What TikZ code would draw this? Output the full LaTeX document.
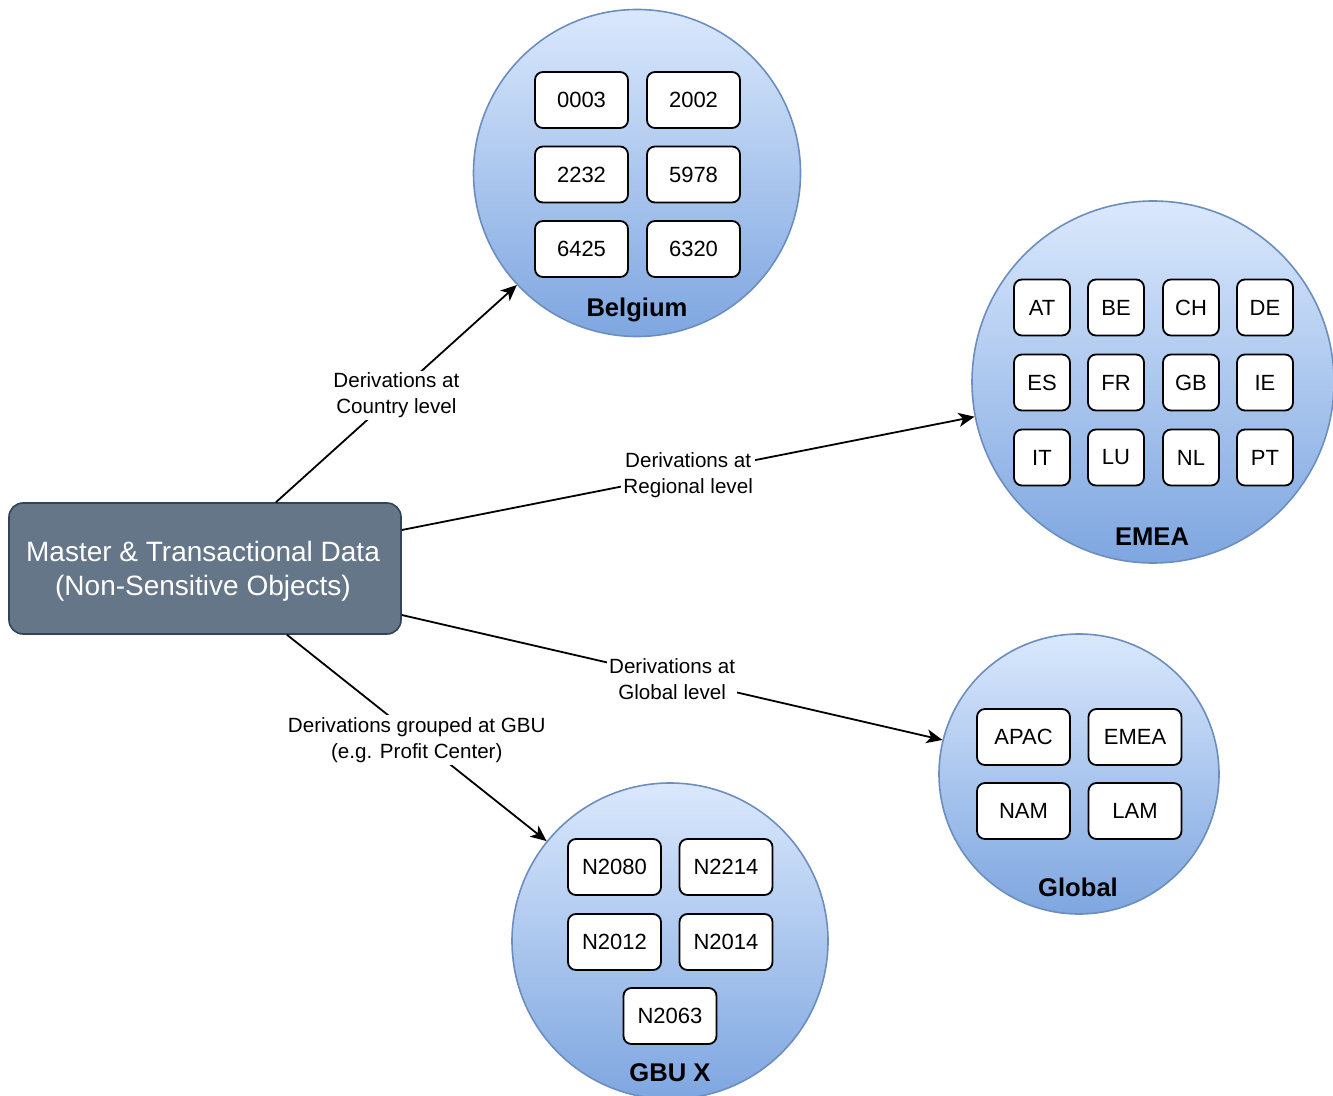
\documentclass[tikz,border=0pt]{standalone}
\usepackage{fontspec}
\setmainfont{Liberation Sans}
\usetikzlibrary{arrows.meta,calc}
\definecolor{circtop}{HTML}{DAE8FC}
\definecolor{circbot}{HTML}{7EA6E0}
\definecolor{circline}{HTML}{6C8EBF}
\definecolor{slate}{HTML}{647687}
\definecolor{slateline}{HTML}{314354}
\begin{document}
\begin{tikzpicture}[x=0.5pt,y=-0.5pt,
 region/.style={circle,draw=circline,line width=0.8pt,top color=circtop,bottom color=circbot,inner sep=0pt},
 item/.style={draw=black,fill=white,rounded corners=4pt,line width=0.9pt,minimum width=46.5pt,minimum height=28pt,inner sep=0pt,font=\fontsize{11}{13}\selectfont},
 sq/.style={item,minimum width=28pt},
 regtitle/.style={font=\bfseries\fontsize{12.8}{15}\selectfont},
 lbl/.style={fill=white,inner sep=1pt,align=center,font=\fontsize{10.3}{13}\selectfont,yshift=-1pt},
 conn/.style={line width=0.9pt,-{Stealth[length=8pt,width=7pt,inset=2.2pt]}}
]
\useasboundingbox (0,0) rectangle (1333,1096);
\clip (0,0) rectangle (1333,1096);

% master box
\node[draw=slateline,fill=slate,rounded corners=7pt,line width=0.8pt,minimum width=196pt,minimum height=65.5pt,inner sep=0pt] (master) at (205,568.5) {};
\node[text=white,align=center,font=\fontsize{14}{17}\selectfont] (mastert) at (203,571) {Master \& Transactional Data\\(Non-Sensitive Objects)};

% Belgium
\node[region,minimum size=163.5pt] (belgium) at (637,173) {};
\node[item] (b1) at (581.5,100) {0003};
\node[item] (b2) at (693.5,100) {2002};
\node[item] (b3) at (581.5,174.5) {2232};
\node[item] (b4) at (693.5,174.5) {5978};
\node[item] (b5) at (581.5,249) {6425};
\node[item] (b6) at (693.5,249) {6320};
\node[regtitle] (belgiumt) at (637,310) {Belgium};

% EMEA
\node[region,minimum size=181pt] (emea) at (1153,382) {};
\node[sq] (e1) at (1042,307.5) {AT};
\node[sq] (e2) at (1116,307.5) {BE};
\node[sq] (e3) at (1191,307.5) {CH};
\node[sq] (e4) at (1265,307.5) {DE};
\node[sq] (e5) at (1042,382.5) {ES};
\node[sq] (e6) at (1116,382.5) {FR};
\node[sq] (e7) at (1191,382.5) {GB};
\node[sq] (e8) at (1265,382.5) {IE};
\node[sq] (e9) at (1042,457.5) {IT};
\node[sq] (e10) at (1116,457.5) {LU};
\node[sq] (e11) at (1191,457.5) {NL};
\node[sq] (e12) at (1265,457.5) {PT};
\node[regtitle] (emeat) at (1152,537) {EMEA};

% Global
\node[region,minimum size=140pt] (global) at (1079,774) {};
\node[item] (g1) at (1023.5,737) {APAC};
\node[item] (g2) at (1135,737) {EMEA};
\node[item] (g3) at (1023.5,811) {NAM};
\node[item] (g4) at (1135,811) {LAM};
\node[regtitle] (globalt) at (1078,887) {Global};

% GBU
\node[region,minimum size=158pt] (gbu) at (670,941) {};
\node[item] (n1) at (614.5,867) {N2080};
\node[item] (n2) at (726,867) {N2214};
\node[item] (n3) at (614.5,942) {N2012};
\node[item] (n4) at (726,942) {N2014};
\node[item] (n5) at (670,1016) {N2063};
\node[regtitle] (gbut) at (670,1073) {GBU X};

% connectors
\coordinate (sCountry) at ([xshift=35.5pt]master.north);
\coordinate (sRegion) at ([yshift=19.25pt]master.east);
\coordinate (sGlobal) at ([yshift=-23.25pt]master.east);
\coordinate (sGbu) at ([xshift=41pt]master.south);

\draw[conn] (sCountry) -- node[lbl] {Derivations at\\Country level} (belgium.223);
\draw[conn] (sRegion) -- node[lbl] {Derivations at\\Regional level} (emea.191);
\draw[conn] (sGlobal) -- node[lbl] {Derivations at\\Global level} (global.166);
\draw[conn] (sGbu) -- node[lbl] {Derivations grouped at GBU\\(e.g. Profit Center)} (gbu.141);
\end{tikzpicture}
\end{document}
